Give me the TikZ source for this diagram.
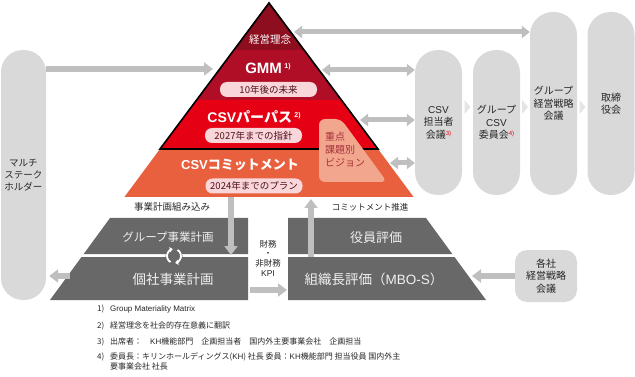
\documentclass[tikz,border=0pt]{standalone}
\usepackage{fontspec}
\setmainfont{Noto Sans CJK JP}
\newfontfamily\lat{Liberation Sans}
\usetikzlibrary{arrows.meta,positioning,calc}

\definecolor{philored}{HTML}{8C0E1F}
\definecolor{gmmred}{HTML}{B00E27}
\definecolor{purposered}{HTML}{E50014}
\definecolor{commitorange}{HTML}{E8603E}
\definecolor{visionpink}{HTML}{F2A68E}
\definecolor{visiontext}{HTML}{A6303A}
\definecolor{tagpink}{HTML}{F8D6DA}
\definecolor{tagtext}{HTML}{4E1018}
\definecolor{pillgray}{HTML}{D9D9D9}
\definecolor{chevgray}{HTML}{E4E4E4}
\definecolor{arrowgray}{HTML}{BFBFBF}
\definecolor{trapgray}{HTML}{686868}
\definecolor{supred}{HTML}{E60012}

\newcommand{\fsz}[2]{\fontsize{#1}{#2}\selectfont}

\begin{document}
\begin{tikzpicture}[x=1pt,y=-1pt,
    bandtitle/.style={text=white, inner sep=0pt, font=\bfseries\fsz{14}{16}},
    bandtag/.style={fill=tagpink, text=tagtext, rounded corners=7pt, minimum width=97pt,
      minimum height=15pt, inner sep=0pt, font=\fsz{9.5}{11}},
    pill/.style={fill=pillgray, rounded corners=23pt, minimum width=47pt, inner sep=0pt,
      align=center, text=black!85, font=\fsz{10}{12.5}},
    trap/.style={fill=trapgray},
    traptext/.style={text=white!94!black, inner sep=0pt},
    plaintext/.style={inner sep=0pt, text=black!85, font=\fsz{9.5}{11}},
    garrow/.style={draw=arrowgray, line width=5.5pt, -{Triangle[width=13pt,length=9pt]}},
    dgarrow/.style={draw=arrowgray, line width=5pt,
      {Triangle[width=12pt,length=8pt]}-{Triangle[width=12pt,length=8pt]}},
    fn/.style={anchor=base west, inner sep=0pt, text=black!85, font=\fsz{8}{10}}]
  \useasboundingbox (0,0) rectangle (635,377);

  % pyramid
  \fill[philored] (269,2) -- (233.4,50) -- (304.6,50) -- cycle;
  \fill[gmmred] (233.4,50) -- (304.6,50) -- (341.7,100) -- (196.3,100) -- cycle;
  \fill[purposered] (196.3,100) -- (341.7,100) -- (378,149) -- (160,149) -- cycle;
  \fill[commitorange] (160,149) -- (378,149) -- (413.6,197) -- (124.4,197) -- cycle;
  \draw[line width=1.6pt] (269,3) -- (160,149) -- (378,149) -- cycle;
  \fill[visionpink, rounded corners=6pt] (319,119) -- (341,119) -- (387,182) -- (319,182) -- cycle;

  \node[text=white, inner sep=0pt, font=\fsz{10.5}{12}] (philo) at (270,40) {経営理念};
  \node[bandtitle, font=\bfseries\fsz{15}{17}] (gmm) at (268,68)
    {{\lat GMM}\,\raisebox{5pt}{\fsz{7}{8}\lat 1)}};
  \node[bandtag] (gmmtag) at (268.5,89.5) {10年後の未来};
  \node[bandtitle] (purpose) at (254,117) {{\lat CSV}パーパス\,\raisebox{5pt}{\fsz{7}{8}\lat 2)}};
  \node[bandtag] (purposetag) at (253.5,135.5) {2027年までの指針};
  \node[bandtitle, font=\bfseries\fsz{13}{15}] (commit) at (240,165) {{\lat CSV}コミットメント};
  \node[bandtag] (committag) at (254,186) {2024年までのプラン};
  \node[anchor=west, align=left, inner sep=0pt, text=visiontext, font=\fsz{10}{13}] (vision)
    at (325,150) {重点\\課題別\\ビジョン};

  % meetings
  \node[pill, rounded corners=22pt, minimum width=45pt, minimum height=250pt,
    font=\fsz{9.5}{12}] (stake) at (23.5,175) {マルチ\\ステーク\\ホルダー};
  \node[pill, minimum height=145pt] (csvmeet) at (438.5,122.5)
    {{\lat CSV}\\担当者\\会議\textcolor{supred}{\raisebox{3pt}{\fsz{6}{6}\lat 3)}}};
  \node[pill, minimum height=145pt] (csvcomm) at (496.5,122.5)
    {グループ\\{\lat CSV}\\委員会\textcolor{supred}{\raisebox{3pt}{\fsz{6}{6}\lat 4)}}};
  \node[pill, minimum height=183pt] (grpmgmt) at (553.5,103.5) {グループ\\経営戦略\\会議};
  \node[pill, minimum height=183pt] (board) at (611,103.5) {取締\\役会};
  \foreach \cx in {467.5,525,582.5}
    \fill[chevgray] (\cx-3,100) -- (\cx+3,107) -- (\cx-3,114) -- cycle;

  % arrows around the pyramid
  \coordinate (pyrtop) at (294,32);
  \coordinate (pyrgmm) at (213,69);
  \coordinate (pyrr1) at (322,70);
  \coordinate (pyrr2) at (360,120);
  \coordinate (pyrr3) at (390,163);
  \draw[dgarrow] (pyrtop) -- (grpmgmt.west |- pyrtop);
  \draw[garrow] (stake.east |- pyrgmm) -- (pyrgmm);
  \draw[dgarrow] (pyrr1) -- (csvmeet.west |- pyrr1);
  \draw[dgarrow] (pyrr2) -- (csvmeet.west |- pyrr2);
  \draw[dgarrow] (pyrr3) -- (csvmeet.west |- pyrr3);

  % plans and evaluations
  \fill[trap] (110,218) -- (248,218) -- (248,254) -- (83.7,254) -- cycle;
  \fill[trap] (81.5,257) -- (248,257) -- (248,300) -- (50,300) -- cycle;
  \fill[trap] (288,218) -- (426,218) -- (452.3,254) -- (288,254) -- cycle;
  \fill[trap] (288,257) -- (454.5,257) -- (486,300) -- (288,300) -- cycle;
  \node[traptext, font=\fsz{11.5}{13}] (grpplan) at (168,237) {グループ事業計画};
  \node[traptext, font=\fsz{13.5}{15}] (coplan) at (173,279) {個社事業計画};
  \node[traptext, font=\fsz{13}{15}] (exeval) at (376,238) {役員評価};
  \node[traptext, font=\fsz{13.5}{15}] (orgeval) at (374,279) {組織長評価（{\lat MBO-S}）};

  % recycle mark
  \coordinate (icon) at (174,256);
  \fill[trapgray] (icon) circle (8.5);
  \draw[white, line width=1.8pt, -{Triangle[width=5pt,length=3pt]}]
    ($(icon)+(-3.5,6.1)$) arc[start angle=-240, end angle=-100, radius=7];
  \draw[white, line width=1.8pt, -{Triangle[width=5pt,length=3pt]}]
    ($(icon)+(3.5,-6.1)$) arc[start angle=-60, end angle=80, radius=7];

  \node[plaintext] (embed) at (172,207) {事業計画組み込み};
  \node[plaintext, font=\fsz{8.5}{10}] (promote) at (370,207) {コミットメント推進};
  \node[plaintext, align=center, font=\fsz{8.5}{9.7}] (kpi) at (268,258) {財務\\・\\非財務\\{\lat KPI}};
  \node[pill, rounded corners=12pt, minimum width=62pt, minimum height=52pt] (localmgmt)
    at (546,276) {各社\\経営戦略\\会議};

  \coordinate (commitbot) at (231,197);
  \coordinate (grpplanin) at (231,255);
  \coordinate (exevalin) at (311,257);
  \coordinate (committop) at (311,199);
  \coordinate (kpifrom) at (250,290);
  \coordinate (kpito) at (287,290);
  \coordinate (orgedge) at (472,276);
  \coordinate (coedge) at (70,276);
  \draw[garrow] (commitbot) -- (grpplanin);
  \draw[garrow] (exevalin) -- (committop);
  \draw[garrow] (kpifrom) -- (kpito);
  \draw[garrow] (localmgmt.west) -- (orgedge);
  \draw[garrow] (coedge) -- ([xshift=3pt]stake.east |- coedge);

  % notes
  \node[fn] (fn1) at (97,311) {\makebox[13pt][l]{1)}{\lat Group Materiality Matrix}};
  \node[fn] (fn2) at (97,328) {\makebox[13pt][l]{2)}経営理念を社会的存在意義に翻訳};
  \node[fn] (fn3) at (97,344) {\makebox[13pt][l]{3)}出席者：　{\lat KH}機能部門　企画担当者　国内外主要事業会社　企画担当};
  \node[fn] (fn4) at (97,359) {\makebox[13pt][l]{4)}委員長：キリンホールディングス({\lat KH}) 社長 委員：{\lat KH}機能部門 担当役員 国内外主};
  \node[fn] (fn4b) at (110,369) {要事業会社 社長};
\end{tikzpicture}
\end{document}
